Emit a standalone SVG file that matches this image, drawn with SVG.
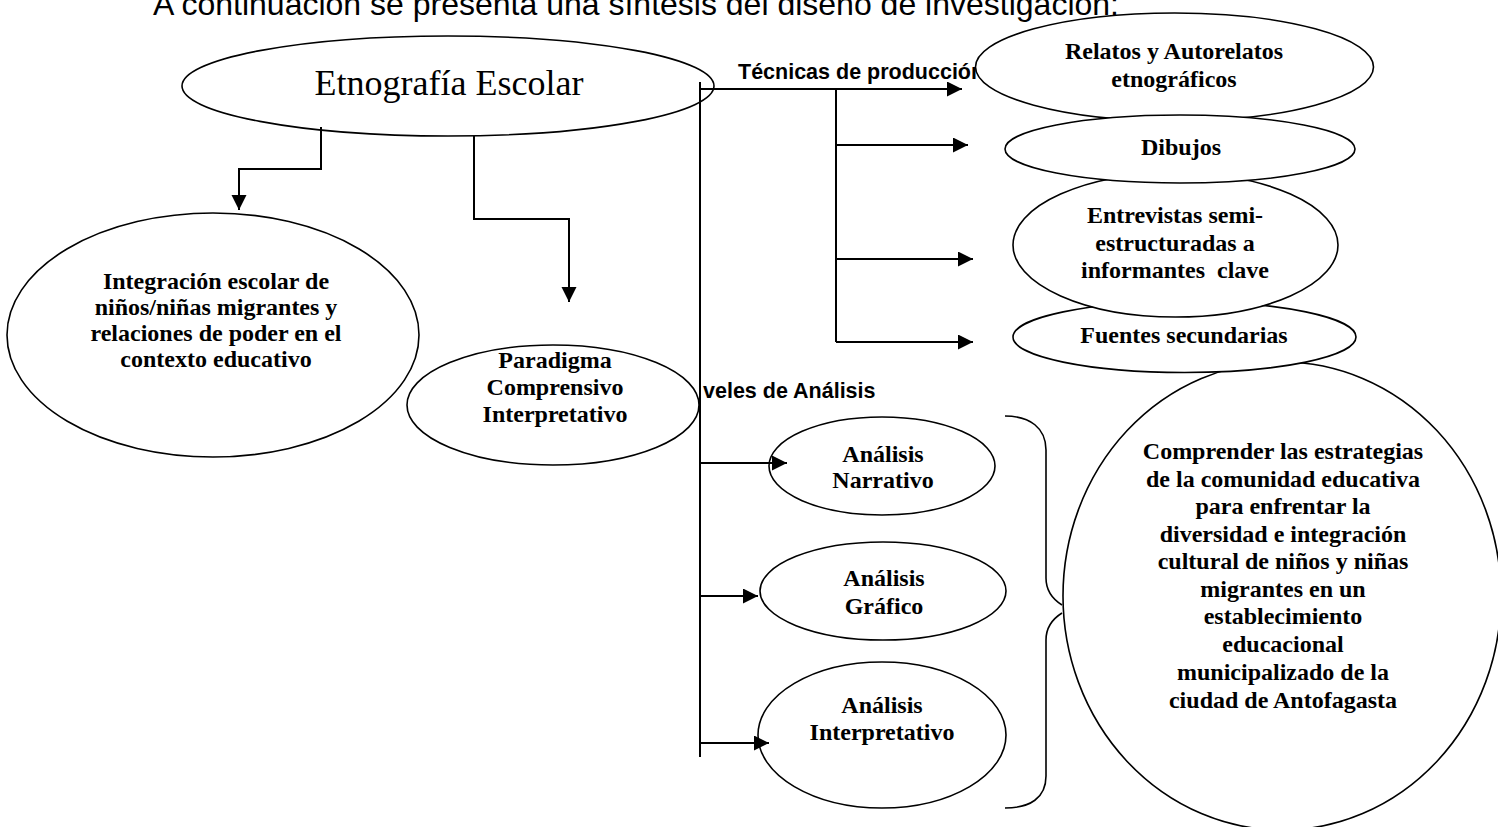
<svg xmlns="http://www.w3.org/2000/svg" width="1498" height="827" viewBox="0 0 1498 827">
  <defs>
    <style>
      .node { fill: #ffffff; stroke: #000000; stroke-width: 1.6; }
      .conn { fill: none; stroke: #000000; stroke-width: 2; }
      .brace { fill: none; stroke: #000000; stroke-width: 1.6; }
      .lbl { font-family: "Liberation Serif", "Times New Roman", serif; font-weight: bold; font-size: 24px; fill: #000; text-anchor: middle; }
      .main { font-family: "Liberation Serif", "Times New Roman", serif; font-size: 36px; fill: #000; text-anchor: middle; }
      .sans { font-family: "Liberation Sans", Arial, sans-serif; font-weight: bold; font-size: 21.5px; fill: #000; }
      .title { font-family: "Liberation Sans", Arial, sans-serif; font-size: 32px; fill: #000; }
    </style>
    <marker id="arr" markerUnits="userSpaceOnUse" markerWidth="16" markerHeight="16" refX="15" refY="7.5" orient="auto">
      <path d="M0,0 L15,7.5 L0,15 z" fill="#000"/>
    </marker>
  </defs>

  <text class="title" x="153" y="15">A continuación se presenta una síntesis del diseño de investigación:</text>

  <g id="labels">
    <text class="sans" x="738" y="79">Técnicas de producción</text>
    <text class="sans" x="703" y="398">veles de Análisis</text>
  </g>

  <g id="n-etnografia">
    <ellipse class="node" cx="448" cy="86" rx="266" ry="50"/>
    <text class="main" x="449" y="95">Etnografía Escolar</text>
  </g>

  <g id="n-integracion">
    <ellipse class="node" cx="213" cy="335" rx="206" ry="122"/>
    <text class="lbl"><tspan x="216" y="289">Integración escolar de</tspan><tspan x="216" y="315">niños/niñas migrantes y</tspan><tspan x="216" y="341">relaciones de poder en el</tspan><tspan x="216" y="367">contexto educativo</tspan></text>
  </g>

  <g id="n-paradigma">
    <ellipse class="node" cx="553" cy="405" rx="146" ry="60"/>
    <text class="lbl"><tspan x="555" y="368">Paradigma</tspan><tspan x="555" y="395">Comprensivo</tspan><tspan x="555" y="422">Interpretativo</tspan></text>
  </g>

  <g id="n-objetivo">
    <ellipse class="node" cx="1282" cy="596" rx="219" ry="234"/>
    <text class="lbl"><tspan x="1283" y="459">Comprender las estrategias</tspan><tspan x="1283" y="487">de la comunidad educativa</tspan><tspan x="1283" y="514">para enfrentar la</tspan><tspan x="1283" y="542">diversidad e integración</tspan><tspan x="1283" y="569">cultural de niños y niñas</tspan><tspan x="1283" y="597">migrantes en un</tspan><tspan x="1283" y="624">establecimiento</tspan><tspan x="1283" y="652">educacional</tspan><tspan x="1283" y="680">municipalizado de la</tspan><tspan x="1283" y="708">ciudad de Antofagasta</tspan></text>
  </g>

  <g id="n-fuentes">
    <ellipse class="node" cx="1184.5" cy="337" rx="171.5" ry="35.5"/>
    <text class="lbl" x="1184" y="343">Fuentes secundarias</text>
  </g>

  <g id="n-entrevistas">
    <ellipse class="node" cx="1175.5" cy="245" rx="162.5" ry="72"/>
    <text class="lbl"><tspan x="1175" y="223">Entrevistas semi-</tspan><tspan x="1175" y="251">estructuradas a</tspan><tspan x="1175" y="278" style="white-space:pre">informantes  clave</tspan></text>
  </g>

  <g id="n-relatos">
    <ellipse class="node" cx="1174.5" cy="67" rx="199" ry="54"/>
    <text class="lbl"><tspan x="1174" y="59">Relatos y Autorelatos</tspan><tspan x="1174" y="87">etnográficos</tspan></text>
  </g>

  <g id="n-dibujos">
    <ellipse class="node" cx="1180" cy="149" rx="175" ry="34"/>
    <text class="lbl" x="1181" y="155">Dibujos</text>
  </g>

  <g id="n-narrativo">
    <ellipse class="node" cx="882" cy="466" rx="113" ry="49"/>
    <text class="lbl"><tspan x="883" y="462">Análisis</tspan><tspan x="883" y="488">Narrativo</tspan></text>
  </g>

  <g id="n-grafico">
    <ellipse class="node" cx="883" cy="591" rx="123" ry="49"/>
    <text class="lbl"><tspan x="884" y="586">Análisis</tspan><tspan x="884" y="614">Gráfico</tspan></text>
  </g>

  <g id="n-interpretativo">
    <ellipse class="node" cx="882" cy="735" rx="124" ry="73"/>
    <text class="lbl"><tspan x="882" y="713">Análisis</tspan><tspan x="882" y="740">Interpretativo</tspan></text>
  </g>

  <g id="brace">
    <path class="brace" d="M1005,416 C1030,416 1046,428 1046,450 L1046,578 C1046,592 1054,600 1062,605"/>
    <path class="brace" d="M1062,613 C1054,618 1046,626 1046,640 L1046,776 C1046,798 1030,808 1005,808"/>
  </g>

  <g id="connectors">
    <path class="conn" d="M321,127 L321,169 L239,169 L239,210" marker-end="url(#arr)"/>
    <path class="conn" d="M474,136 L474,219 L569,219 L569,302" marker-end="url(#arr)"/>
    <line class="conn" x1="700" y1="82" x2="700" y2="757" stroke-width="1.6"/>
    <path class="conn" d="M700,89 L962,89" marker-end="url(#arr)"/>
    <line class="conn" x1="836" y1="89" x2="836" y2="342"/>
    <path class="conn" d="M836,145 L968,145" marker-end="url(#arr)"/>
    <path class="conn" d="M836,259 L973,259" marker-end="url(#arr)"/>
    <path class="conn" d="M836,342 L973,342" marker-end="url(#arr)"/>
    <path class="conn" d="M700,463 L787,463" marker-end="url(#arr)"/>
    <path class="conn" d="M700,596 L758,596" marker-end="url(#arr)"/>
    <path class="conn" d="M700,743 L769,743" marker-end="url(#arr)"/>
  </g>
</svg>
